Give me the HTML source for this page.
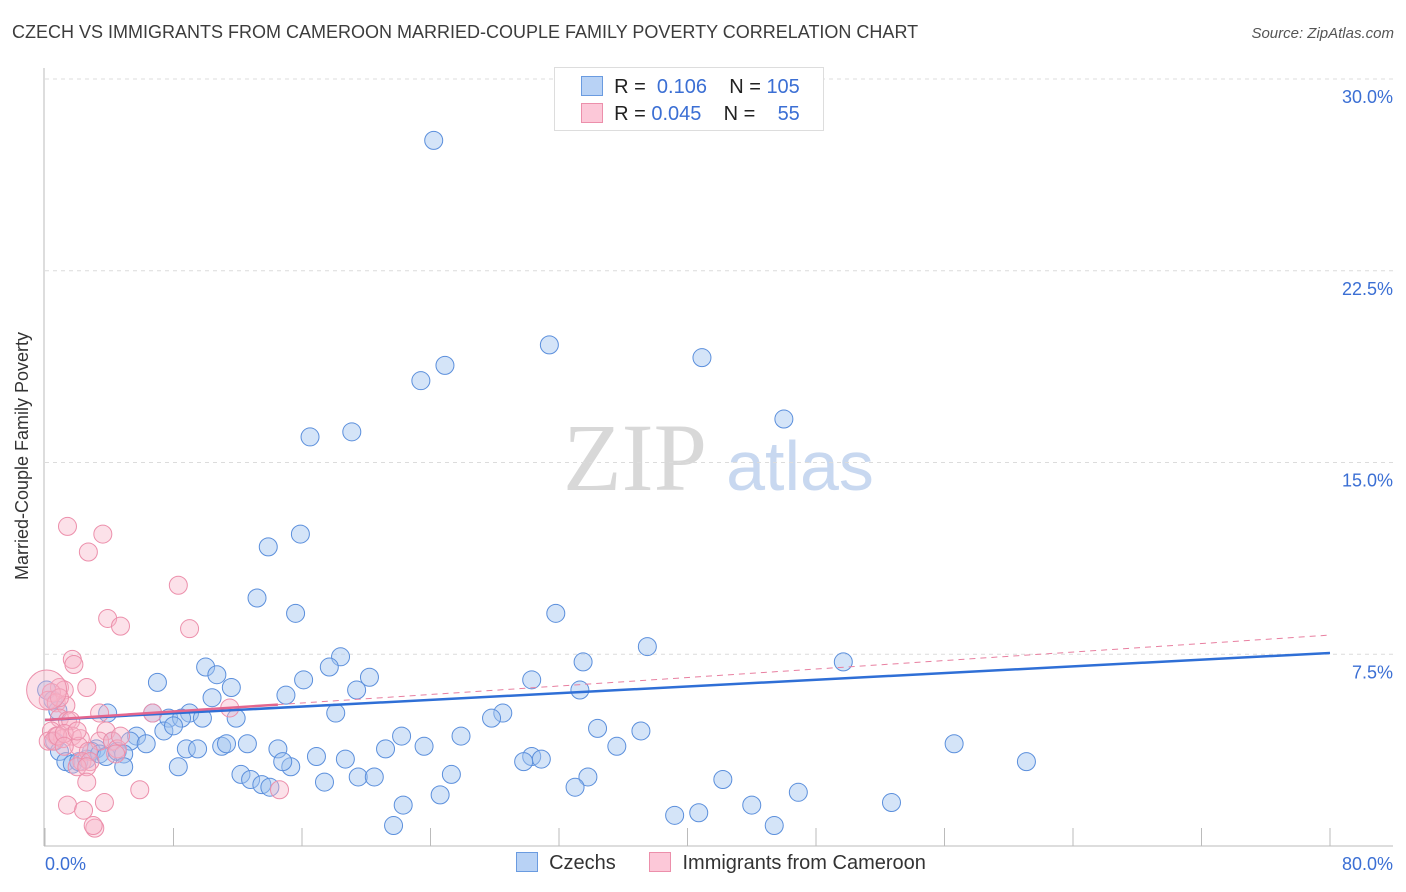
<!DOCTYPE html>
<html><head><meta charset="utf-8">
<style>
body{margin:0;background:#fff;font-family:"Liberation Sans",sans-serif;}
#wrap{position:relative;width:1406px;height:892px;overflow:hidden;}
.t{position:absolute;white-space:nowrap;}
</style></head>
<body>
<div id="wrap">
<div class="t" style="left:12px;top:22px;font-size:18px;color:#3c3c3c;">CZECH VS IMMIGRANTS FROM CAMEROON MARRIED-COUPLE FAMILY POVERTY CORRELATION CHART</div>
<div class="t" style="right:12px;top:25px;font-size:15px;color:#555;font-style:italic;">Source: ZipAtlas.com</div>
<svg id="svg" width="1406" height="892" style="position:absolute;left:0;top:0">
<text x="635" y="490" font-family="Liberation Serif,serif" font-size="96" fill="#d8d8d8" text-anchor="middle">ZIP</text>
<text x="800" y="490" font-family="Liberation Sans,sans-serif" font-size="70" fill="#c8d8f0" text-anchor="middle">atlas</text>
<g id="grid"></g><g id="axes"></g><g id="pts"></g><g id="trend"></g>
<text x="28" y="456" transform="rotate(-90 28 456)" font-size="18" fill="#333" text-anchor="middle">Married-Couple Family Poverty</text>
<text x="45" y="870" font-size="18" fill="#3b6fd4">0.0%</text>
<text x="1393" y="870" font-size="18" fill="#3b6fd4" text-anchor="end">80.0%</text>
</svg>
<div class="t" style="left:554px;top:67px;width:268px;height:62px;border:1px solid #ddd;background:#fff;font-size:20px;color:#222;">
 <div style="position:absolute;left:26px;top:8px;"><span style="display:inline-block;width:20px;height:18px;background:#b8d2f5;border:1px solid #6a9be0;vertical-align:-3px"></span>&nbsp; R = &nbsp;<span style="color:#3b6fd4">0.106</span>&nbsp;&nbsp;&nbsp; N = <span style="color:#3b6fd4">105</span></div>
 <div style="position:absolute;left:26px;top:35px;"><span style="display:inline-block;width:20px;height:18px;background:#fcc8d8;border:1px solid #ec8fab;vertical-align:-3px"></span>&nbsp; R = <span style="color:#3b6fd4">0.045</span>&nbsp;&nbsp;&nbsp; N = &nbsp;&nbsp; <span style="color:#3b6fd4">55</span></div>
</div>
<div class="t" style="left:516px;top:852px;font-size:20px;color:#333;">
 <span><span style="display:inline-block;width:20px;height:18px;background:#b8d2f5;border:1px solid #6a9be0;vertical-align:-3px"></span>&nbsp; Czechs</span>
 <span style="margin-left:28px"><span style="display:inline-block;width:20px;height:18px;background:#fcc8d8;border:1px solid #ec8fab;vertical-align:-3px"></span>&nbsp; Immigrants from Cameroon</span>
</div>
</div>
<script>
const yTicks=[7.5,15,22.5,30];
const yTickLabels=["7.5%","15.0%","22.5%","30.0%"];
const xTicks=[0,8,16,24,32,40,48,56,64,72,80];
const czX=[24.2,31.4,40.9,24.9,23.4,46.0,16.5,19.1,15.9,13.9,13.2,15.6,31.8,37.5,33.5,49.7,10.0,18.4,17.7,10.7,20.2,16.1,7.0,11.6,30.3,15.0,10.4,33.3,19.4,3.9,6.7,9.0,7.7,8.5,9.8,11.9,18.1,28.5,27.8,7.4,8.0,5.7,5.3,6.3,4.2,3.2,8.8,9.5,11.0,12.6,11.3,14.5,16.9,18.7,21.2,22.2,23.6,25.9,30.3,30.9,34.4,35.6,37.1,56.6,61.1,0.6,0.9,1.3,1.7,2.1,2.6,2.9,3.4,3.8,4.5,4.9,4.9,8.3,12.2,12.8,13.5,14.0,15.3,14.8,17.4,19.5,20.5,25.3,29.8,33.8,33.0,42.2,46.9,22.3,24.6,44.0,52.7,39.2,40.7,21.7,45.4,0.1,0.5,0.8];
const czY=[27.6,19.6,19.1,18.8,18.2,16.7,16.0,16.2,12.2,11.7,9.7,9.1,9.1,7.8,7.2,7.2,7.0,7.4,7.0,6.7,6.6,6.5,6.4,6.2,6.5,5.9,5.8,6.1,6.1,5.2,5.2,5.2,5.0,5.0,5.0,5.0,5.2,5.2,5.0,4.5,4.7,4.3,4.1,4.0,4.1,3.8,3.8,3.8,3.9,4.0,4.0,3.8,3.5,3.4,3.8,4.3,3.9,4.3,3.5,3.4,4.6,3.9,4.5,4.0,3.3,4.1,3.7,3.3,3.2,3.3,3.4,3.7,3.6,3.5,3.7,3.6,3.1,3.1,2.8,2.6,2.4,2.3,3.1,3.3,2.5,2.7,2.7,2.8,3.3,2.7,2.3,2.6,2.1,1.6,2.0,1.6,1.7,1.2,1.3,0.8,0.8,6.1,5.7,5.3];
const cmX=[1.4,3.6,2.7,8.3,3.9,4.7,9.0,1.7,1.8,0.9,1.2,2.6,0.4,0.2,0.7,1.3,0.9,1.4,1.6,3.4,11.5,0.4,0.7,1.1,1.7,2.2,3.8,0.2,0.5,0.8,1.2,2.1,3.4,4.2,4.5,2.7,2.3,2.8,2.0,2.6,4.4,2.6,5.9,14.6,1.4,3.7,2.4,3.1,3.0,6.7,4.7,2.0,1.2,0.9,0.1];
const cmY=[12.5,12.2,11.5,10.2,8.9,8.6,8.5,7.3,7.1,6.2,6.1,6.2,6.0,5.7,5.6,5.5,5.0,4.9,4.9,5.2,5.4,4.5,4.3,4.2,4.3,4.2,4.5,4.1,4.1,4.3,4.4,3.9,4.1,4.1,3.8,3.7,3.3,3.3,3.1,3.1,3.6,2.5,2.2,2.2,1.6,1.7,1.4,0.7,0.8,5.2,4.3,4.5,3.9,5.8,6.1];
const cmSize=[9,9,9,9,9,9,9,9,9,9,9,9,9,9,9,9,9,9,9,9,9,9,9,9,9,9,9,9,9,9,9,9,9,9,9,9,9,9,9,9,9,9,9,9,9,9,9,9,9,9,9,9,9,9,20];
const czTrend=[4.93,7.55];
const cmTrend=[4.93,8.25];
const cmSolidEnd=14.5;

const X0=45,X1=1330,Y0=846,Y30=79;
const sx=v=>X0+(X1-X0)*v/80;
const sy=v=>Y0-(Y0-Y30)*v/30;
const NS="http://www.w3.org/2000/svg";
function mk(p,tag,attrs){const e=document.createElementNS(NS,tag);for(const k in attrs)e.setAttribute(k,attrs[k]);p.appendChild(e);return e;}
const grid=document.getElementById('grid'),axes=document.getElementById('axes'),pts=document.getElementById('pts'),tr=document.getElementById('trend');
yTicks.forEach((v,i)=>{
 const l=mk(grid,'line',{x1:X0,x2:1393,y1:sy(v),y2:sy(v),stroke:'#dcdcdc','stroke-dasharray':'4 4'});
 
 
 const t=mk(grid,'text',{x:1393,y:sy(v)+24,'font-size':18,fill:'#3b6fd4','text-anchor':'end'});
 t.textContent=yTickLabels[i];
 
 
});
const ax=mk(axes,'line',{x1:44,x2:44,y1:68,y2:Y0,stroke:'#bbb'});


const bx=mk(axes,'line',{x1:44,x2:1393,y1:Y0,y2:Y0,stroke:'#bbb'});


xTicks.forEach(v=>{
 const t=mk(axes,'line',{x1:sx(v),x2:sx(v),y1:828,y2:Y0,stroke:'#bbb'});
 
 
});
czX.forEach((x,i)=>{
 const c=mk(pts,'circle',{cx:sx(x),cy:sy(czY[i]),r:9,fill:'rgba(160,196,240,0.45)',stroke:'#5b8fdc','stroke-width':1});
 
 
});
cmX.forEach((x,i)=>{
 const c=mk(pts,'circle',{cx:sx(x),cy:sy(cmY[i]),r:cmSize[i],fill:'rgba(248,180,200,0.4)',stroke:'#ec8fab','stroke-width':1});
 
 
});
const cmAt=v=>cmTrend[0]+(cmTrend[1]-cmTrend[0])*v/80;
const d1=mk(tr,'line',{x1:sx(cmSolidEnd),y1:sy(cmAt(cmSolidEnd)),x2:sx(80),y2:sy(cmTrend[1]),stroke:'#e87fa0','stroke-width':1,'stroke-dasharray':'6 5'});


const b1=mk(tr,'line',{x1:sx(0),y1:sy(czTrend[0]),x2:sx(80),y2:sy(czTrend[1]),stroke:'#2f6fd6','stroke-width':2.5});


const p1=mk(tr,'line',{x1:sx(0),y1:sy(cmTrend[0]),x2:sx(cmSolidEnd),y2:sy(cmAt(cmSolidEnd)),stroke:'#e4668e','stroke-width':2.5});


</script>
</body></html>
